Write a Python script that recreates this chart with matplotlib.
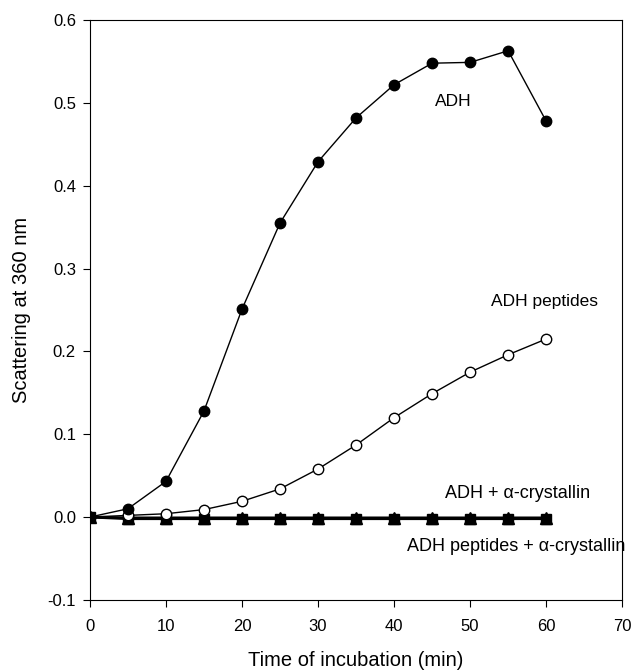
import matplotlib.pyplot as plt

plt.rcParams['font.family'] = ['Liberation Sans', 'DejaVu Sans']

time_min = [0, 5, 10, 15, 20, 25, 30, 35, 40, 45, 50, 55, 60]
adh = [0.0, 0.010, 0.043, 0.128, 0.251, 0.355, 0.429, 0.482, 0.522, 0.548, 0.549, 0.563, 0.478]
adh_peptides = [0.0, 0.002, 0.004, 0.009, 0.019, 0.034, 0.058, 0.087, 0.120, 0.149, 0.175, 0.196, 0.215]
adh_crys = [0.0, -0.002, -0.002, -0.002, -0.002, -0.002, -0.002, -0.002, -0.002, -0.002, -0.002, -0.002, -0.002]
pept_crys = [0.0, -0.001, -0.001, -0.001, -0.001, -0.001, -0.001, -0.001, -0.001, -0.001, -0.001, -0.001, -0.001]

fig = plt.figure(figsize=(6.33, 6.71), dpi=100)
ax = fig.add_axes([0.142, 0.106, 0.841, 0.864])

ax.plot(time_min, adh_crys, 'k-', marker='s', ms=6.5, lw=2)
ax.plot(time_min, pept_crys, 'k-', marker='^', ms=8.5, lw=2)
ax.plot(time_min, adh_peptides, 'k-', marker='o', ms=7.5, mfc='white', mec='black', lw=1)
ax.plot(time_min, adh, 'k-', marker='o', ms=7.5, mfc='black', lw=1)

ax.text(47.8, 0.502, 'ADH', ha='center', va='center', fontsize=12.5)
ax.text(59.8, 0.26, 'ADH peptides', ha='center', va='center', fontsize=12.5)
ax.text(56.3, 0.029, 'ADH + \u03b1-crystallin', ha='center', va='center', fontsize=13)
ax.text(56.0, -0.036, 'ADH peptides + \u03b1-crystallin', ha='center', va='center', fontsize=13)

ax.set_xlim(0, 70)
ax.set_ylim(-0.1, 0.6)
ax.set_xticks(range(0, 71, 10))
ax.set_yticks([-0.1, 0.0, 0.1, 0.2, 0.3, 0.4, 0.5, 0.6])
ax.set_yticklabels(['-0.1', '0.0', '0.1', '0.2', '0.3', '0.4', '0.5', '0.6'])
ax.tick_params(direction='out', length=5, labelsize=12, top=False, right=False)
ax.tick_params(axis='x', pad=9)
ax.tick_params(axis='y', pad=5)
ax.set_xlabel('Time of incubation (min)', fontsize=14.5, labelpad=12)
ax.set_ylabel('Scattering at 360 nm', fontsize=14.5, labelpad=12)

fig.savefig('out.png', dpi=100)
